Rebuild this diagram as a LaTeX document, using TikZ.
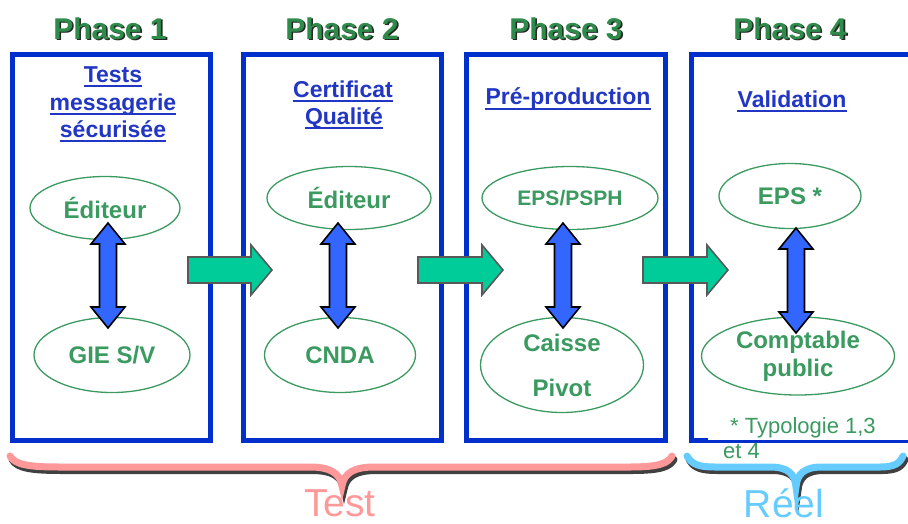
\documentclass[tikz,border=0pt]{standalone}
\usepackage{fontspec}
\setmainfont{Liberation Sans}
\usetikzlibrary{shapes.geometric,calc}
\definecolor{boxblue}{HTML}{0030CC}
\definecolor{subblue}{HTML}{2236C4}
\definecolor{phgreen}{HTML}{2E8B4A}
\definecolor{elgreen}{HTML}{3A9A60}
\definecolor{arrblue}{HTML}{3366FF}
\definecolor{arrgreen}{HTML}{00CC99}
\definecolor{testpink}{HTML}{FF9999}
\definecolor{reelblue}{HTML}{66CCFF}
\newcommand\bluearrow[2]{%
  \path[dblarrow] let \p1=(#1), \p2=(#2) in
   (\x1,\y1) -- (\x1+17pt,\y1-21pt) -- (\x1+8.5pt,\y1-21pt) -- (\x1+8.5pt,\y2+21pt)
   -- (\x1+17pt,\y2+21pt) -- (\x1,\y2) -- (\x1-17pt,\y2+21pt) -- (\x1-8.5pt,\y2+21pt)
   -- (\x1-8.5pt,\y1-21pt) -- (\x1-17pt,\y1-21pt) -- cycle;}
\newcommand\greenarrow[2]{%
  \path[blockarrow] let \p1=(#1), \p2=(#2) in
   (\x1,\y1+13pt) -- (\x2-21pt,\y1+13pt) -- (\x2-21pt,\y1+25pt) -- (\x2,\y1)
   -- (\x2-21pt,\y1-25pt) -- (\x2-21pt,\y1-13pt) -- (\x1,\y1-13pt) -- cycle;}
\begin{document}
\begin{tikzpicture}[x=1pt,y=-1pt,
  phasebox/.style={draw=boxblue,line width=5pt,rectangle,inner sep=0pt,minimum width=198pt,minimum height=386pt},
  phasetitle/.style={font=\fontsize{30}{36}\selectfont\bfseries,text=phgreen,anchor=base,inner sep=0pt},
  phaseshadow/.style={font=\fontsize{30}{36}\selectfont\bfseries,text=black!85,anchor=base,inner sep=0pt},
  subtitle/.style={font=\fontsize{23}{27}\selectfont\bfseries,text=subblue,anchor=base,inner sep=0pt},
  ulline/.style={draw=subblue,line width=2pt},
  actor/.style={ellipse,draw=elgreen,line width=1.3pt,fill=white,inner sep=0pt,
     text=elgreen,font=\fontsize{24}{28}\selectfont\bfseries,align=center},
  dblarrow/.style={fill=arrblue,draw=black,line width=1.6pt,line join=miter},
  blockarrow/.style={fill=arrgreen,draw=black!65,line width=1.6pt,line join=miter},
  bracepath/.style={line width=7pt,line cap=round},
  footnote/.style={font=\fontsize{22}{25}\selectfont,text=elgreen,inner sep=0pt,anchor=base west},
  groupname/.style={font=\fontsize{39}{44}\selectfont,anchor=base,inner sep=0pt}
]
\useasboundingbox (0,0) rectangle (908,523);

% phase boxes
\node[phasebox] (b1) at (111.5,247.5) {};
\node[phasebox] (b2) at (342.5,247.5) {};
\node[phasebox,minimum width=199pt] (b3) at (566,247.5) {};
\node[phasebox,minimum width=223.5pt] (b4) at (803.25,247.5) {};
\fill[white] (708,411) rectangle (912,440);

% phase titles
\foreach \x/\n/\t in {110/p1/Phase 1,342/p2/Phase 2,566/p3/Phase 3,790/p4/Phase 4}{
  \node[phaseshadow] (\n s) at (\x+1.6,40.6) {\t};
  \node[phasetitle] (\n) at (\x,39) {\t};
}

% subtitles
\node[subtitle] (s1a) at (113,82) {Tests};
\node[subtitle] (s1b) at (113,110) {messagerie};
\node[subtitle] (s1c) at (113,137) {sécurisée};
\node[subtitle] (s2a) at (343,97) {Certificat};
\node[subtitle] (s2b) at (344,124) {Qualité};
\node[subtitle] (s3a) at (568,104.5) {Pré-production};
\node[subtitle] (s4a) at (792,107) {Validation};
\foreach \n in {s1a,s1b,s1c,s2a,s2b,s3a,s4a}{
  \draw[ulline] ([yshift=-4pt]\n.base west) -- ([yshift=-4pt]\n.base east);
}

% actors
\node[actor,minimum width=150pt,minimum height=63pt] (e1t) at (105,208) {Éditeur};
\node[actor,minimum width=156pt,minimum height=75pt] (e1b) at (112,355) {GIE S/V};
\node[actor,minimum width=164pt,minimum height=63pt] (e2t) at (349,198) {Éditeur};
\node[actor,minimum width=151pt,minimum height=75pt] (e2b) at (340,355) {CNDA};
\node[actor,minimum width=176pt,minimum height=63pt,font=\fontsize{21}{25}\selectfont\bfseries] (e3t) at (570,198) {EPS/PSPH};
\node[actor,minimum width=163pt,minimum height=95pt] (e3b) at (562,365) {Caisse\\[17pt]Pivot};
\node[actor,minimum width=142pt,minimum height=65pt] (e4t) at (790,196) {EPS *};
\node[actor,minimum width=193pt,minimum height=78pt] (e4b) at (798,356) {Comptable\\public};

% double arrows between actors
\coordinate (a1t) at (108,223); \coordinate (a1b) at (108,328);
\coordinate (a2t) at (338,223); \coordinate (a2b) at (338,328);
\coordinate (a3t) at (563,223); \coordinate (a3b) at (563,328);
\coordinate (a4t) at (796,228); \coordinate (a4b) at (796,333);
\bluearrow{a1t}{a1b}
\bluearrow{a2t}{a2b}
\bluearrow{a3t}{a3b}
\bluearrow{a4t}{a4b}

% block arrows between phases
\coordinate (g1s) at (188,270); \coordinate (g1e) at (272,270);
\coordinate (g2s) at (418,270); \coordinate (g2e) at (503,270);
\coordinate (g3s) at (643,270); \coordinate (g3e) at (728,270);
\greenarrow{g1s}{g1e}
\greenarrow{g2s}{g2e}
\greenarrow{g3s}{g3e}

% footnote
\node[footnote] (fn1) at (730,433) {* Typologie 1,3};
\node[footnote] (fn2) at (723,458) {et 4};

% braces
\begin{scope}[shift={(2,3.5)}]
\draw[bracepath,draw=black!75] (10,456) .. controls (15,465) and (30,467) .. (60,467) -- (310,467)
  .. controls (330,467) and (340,473) .. (342,486) .. controls (344,473) and (354,467) .. (374,467)
  -- (630,467) .. controls (660,467) and (668,463) .. (672,456);
\draw[bracepath,draw=black!75] (687,456) .. controls (692,465) and (700,467) .. (715,467) -- (770,467)
  .. controls (788,467) and (795,474) .. (796,487) .. controls (797,474) and (804,467) .. (822,467)
  -- (880,467) .. controls (895,467) and (900,463) .. (903,456);
\end{scope}
\draw[bracepath,draw=testpink] (10,456) .. controls (15,465) and (30,467) .. (60,467) -- (310,467)
  .. controls (330,467) and (340,473) .. (342,486) .. controls (344,473) and (354,467) .. (374,467)
  -- (630,467) .. controls (660,467) and (668,463) .. (672,456);
\draw[bracepath,draw=reelblue] (687,456) .. controls (692,465) and (700,467) .. (715,467) -- (770,467)
  .. controls (788,467) and (795,474) .. (796,487) .. controls (797,474) and (804,467) .. (822,467)
  -- (880,467) .. controls (895,467) and (900,463) .. (903,456);

\node[groupname,text=testpink] (test) at (340,516) {Test};
\node[groupname,text=reelblue] (reel) at (784,517) {Réel};
\end{tikzpicture}
\end{document}
